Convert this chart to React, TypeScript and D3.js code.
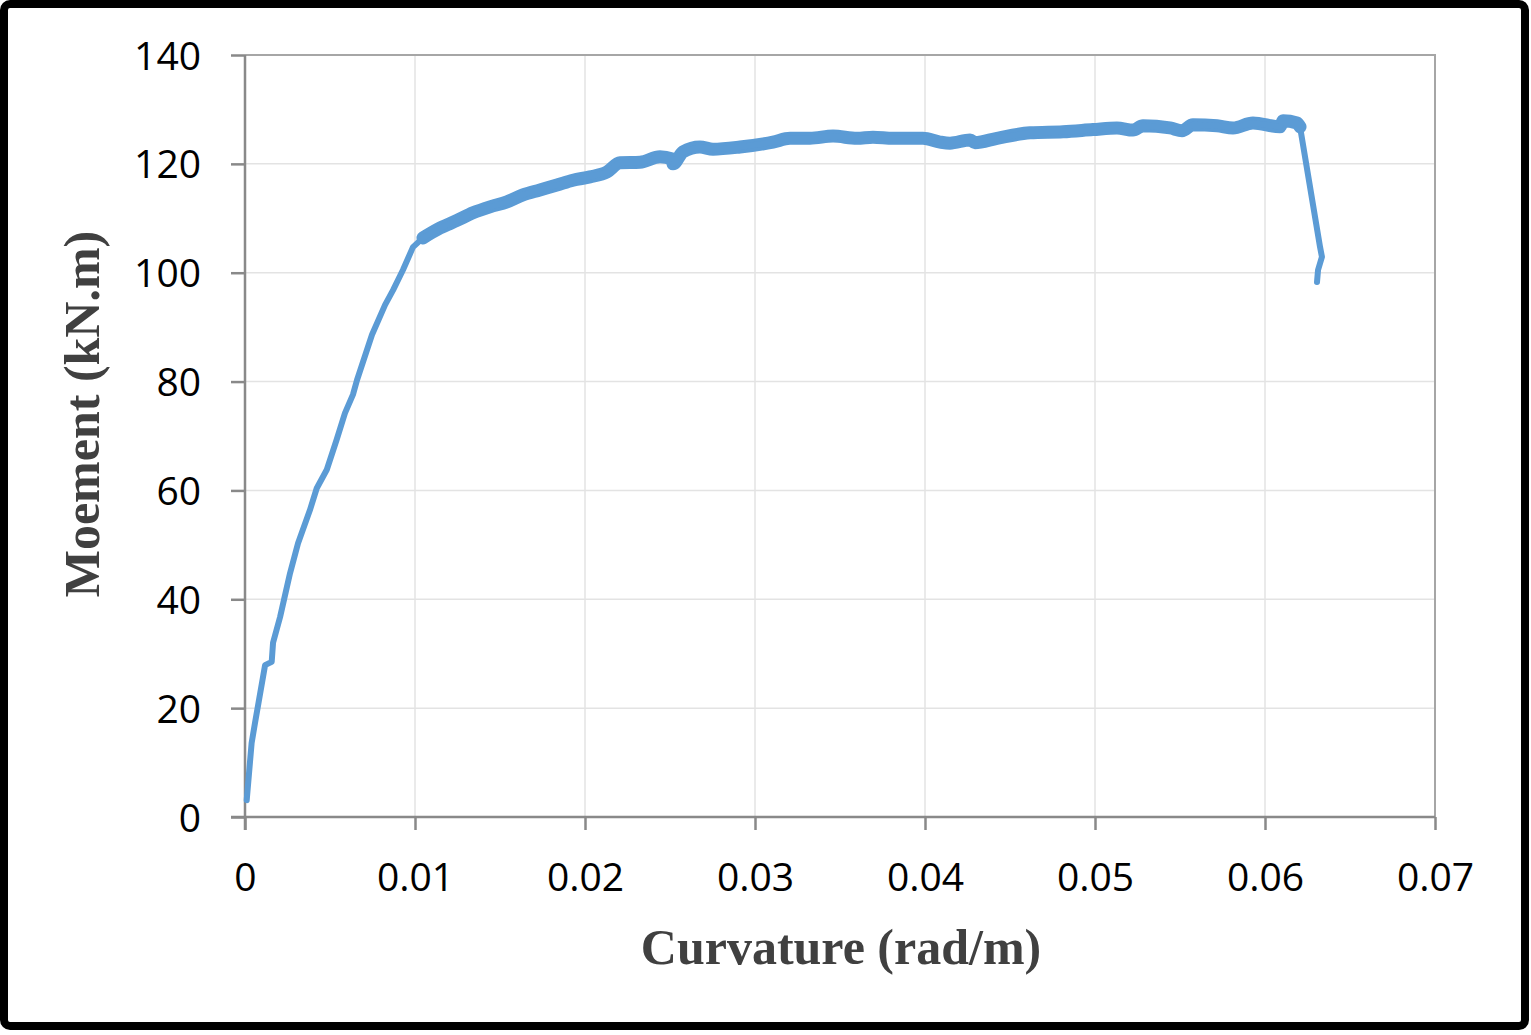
import React, { useEffect, useRef } from 'react';
import * as d3 from 'd3';

// curvature (rad/m) and moment (kN.m)
const curvature = [
  0.0001, 0.00039, 0.00059, 0.00118, 0.00157, 0.00165, 0.00206, 0.00265, 0.00312, 0.00382,
  0.00422, 0.00481, 0.00539, 0.00588, 0.00635, 0.00659, 0.00747, 0.00824, 0.00871, 0.00929,
  0.00988, 0.01047, 0.01147, 0.01247, 0.01341, 0.01441, 0.01541, 0.01635, 0.01735, 0.01835,
  0.01929, 0.02029, 0.02129, 0.02206, 0.02324, 0.02441, 0.02512, 0.02518, 0.02576, 0.02676,
  0.02753, 0.02912, 0.03106, 0.03206, 0.03324, 0.03459, 0.036, 0.03694, 0.03812, 0.03988,
  0.04088, 0.04147, 0.04265, 0.04294, 0.04424, 0.04618, 0.04812, 0.04988, 0.05129, 0.05224,
  0.05282, 0.05441, 0.05512, 0.05576, 0.05718, 0.05812, 0.05929, 0.06088, 0.06106, 0.06188,
  0.06206, 0.06324, 0.06335, 0.06312, 0.06306,
];
const moment = [
  3.1, 13.6, 17.3, 27.9, 28.5, 32.0, 36.7, 44.8, 50.3, 56.4,
  60.4, 63.8, 69.3, 74.2, 77.6, 80.3, 88.6, 94.1, 96.8, 100.5,
  104.7, 106.4, 108.2, 109.6, 111.0, 112.1, 113.0, 114.3, 115.2, 116.1,
  117.0, 117.6, 118.5, 120.2, 120.3, 121.3, 120.9, 120.0, 122.2, 123.1,
  122.7, 123.1, 124.0, 124.7, 124.7, 125.1, 124.7, 124.9, 124.7, 124.7,
  124.0, 123.8, 124.4, 123.9, 124.7, 125.7, 125.9, 126.3, 126.6, 126.2,
  127.0, 126.6, 126.1, 127.2, 127.0, 126.6, 127.5, 126.8, 127.9, 127.5,
  126.8, 104.7, 102.9, 100.5, 98.3,
];

// range where the recorded signal is noisy (drawn as a wider band)
const noisyFrom = 0.0102;
const noisyTo = 0.0621;

const xTicks = [0, 0.01, 0.02, 0.03, 0.04, 0.05, 0.06, 0.07];
const xTickLabels = ['0', '0.01', '0.02', '0.03', '0.04', '0.05', '0.06', '0.07'];
const yTicks = [0, 20, 40, 60, 80, 100, 120, 140];
const yTickLabels = ['0', '20', '40', '60', '80', '100', '120', '140'];

const width = 1531;
const height = 1035;

const App: React.FC = () => {
  const svgRef = useRef<SVGSVGElement>(null);

  useEffect(() => {
    if (!svgRef.current) return;
    const svg = d3.select(svgRef.current);
    svg.selectAll('*').remove();

    const plot = { left: 245, right: 1435, top: 55, bottom: 817 };

    const x = d3.scaleLinear().domain([0, 0.07]).range([plot.left, plot.right]);
    const y = d3.scaleLinear().domain([0, 140]).range([plot.bottom, plot.top]);

    svg.append('rect').attr('width', width).attr('height', height).attr('fill', '#fff');

    // outer frame
    svg.append('rect')
      .attr('x', 4).attr('y', 4)
      .attr('width', 1521).attr('height', 1022)
      .attr('rx', 6)
      .attr('fill', 'none')
      .attr('stroke', '#000')
      .attr('stroke-width', 8);

    // gridlines
    svg.append('g').selectAll('line')
      .data(xTicks.slice(1, -1))
      .enter().append('line')
      .attr('x1', d => x(d)).attr('x2', d => x(d))
      .attr('y1', plot.top).attr('y2', plot.bottom)
      .attr('stroke', '#e3e3e3').attr('stroke-width', 1.5);

    svg.append('g').selectAll('line')
      .data(yTicks.slice(1, -1))
      .enter().append('line')
      .attr('x1', plot.left).attr('x2', plot.right)
      .attr('y1', d => y(d)).attr('y2', d => y(d))
      .attr('stroke', '#e3e3e3').attr('stroke-width', 1.5);

    // plot area border (top/right)
    svg.append('path')
      .attr('d', `M${plot.left},${plot.top}H${plot.right}V${plot.bottom}`)
      .attr('fill', 'none')
      .attr('stroke', '#a6a6a6')
      .attr('stroke-width', 2);

    // axes
    const xAxis = svg.append('g')
      .attr('transform', `translate(0,${plot.bottom})`)
      .call(d3.axisBottom(x).tickValues(xTicks).tickSize(13).tickFormat((_, i) => xTickLabels[i]));
    const yAxis = svg.append('g')
      .attr('transform', `translate(${plot.left},0)`)
      .call(d3.axisLeft(y).tickValues(yTicks).tickSize(14).tickFormat((_, i) => yTickLabels[i]));

    [xAxis, yAxis].forEach(a => {
      a.select('.domain').attr('stroke', '#898989').attr('stroke-width', 2.5);
      a.selectAll('.tick line').attr('stroke', '#898989').attr('stroke-width', 2.5);
      a.selectAll('.tick text')
        .attr('fill', '#000')
        .style('font-family', '"Open Sans", sans-serif')
        .style('font-size', '39px');
    });
    xAxis.select('.domain').attr('d', `M${plot.left - 14},0H${plot.right}`);
    yAxis.select('.domain').attr('d', `M0,${plot.top}V${plot.bottom + 13}`);
    xAxis.selectAll('.tick text').attr('y', 0).attr('dy', 0).attr('transform', 'translate(0,74)');
    yAxis.selectAll('.tick text').attr('x', -44).attr('dy', '0.36em');

    // curve
    const line = d3.line<number>()
      .x(i => x(curvature[i]))
      .y(i => y(moment[i]))
      .curve(d3.curveMonotoneX);
    const straight = d3.line<number>()
      .x(i => x(curvature[i]))
      .y(i => y(moment[i]));

    const idx = d3.range(curvature.length);
    const noisyIdx = idx.filter(i => curvature[i] >= noisyFrom && curvature[i] <= noisyTo);

    svg.append('path')
      .attr('d', line(noisyIdx))
      .attr('fill', 'none')
      .attr('stroke', '#5b9bd5')
      .attr('stroke-width', 13)
      .attr('stroke-linejoin', 'round')
      .attr('stroke-linecap', 'round');

    svg.append('path')
      .attr('d', straight(idx))
      .attr('fill', 'none')
      .attr('stroke', '#5b9bd5')
      .attr('stroke-width', 6)
      .attr('stroke-linejoin', 'round')
      .attr('stroke-linecap', 'round');

    // axis titles
    svg.append('text')
      .attr('x', 841).attr('y', 964)
      .attr('text-anchor', 'middle')
      .attr('fill', '#404040')
      .style('font-family', '"Liberation Serif", "Times New Roman", serif')
      .style('font-weight', 'bold')
      .style('font-size', '50px')
      .text('Curvature (rad/m)');

    svg.append('text')
      .attr('transform', 'translate(99,414) rotate(-90)')
      .attr('text-anchor', 'middle')
      .attr('fill', '#404040')
      .style('font-family', '"Liberation Serif", "Times New Roman", serif')
      .style('font-weight', 'bold')
      .style('font-size', '50px')
      .text('Moement (kN.m)');
  }, []);

  return (
    <svg
      ref={svgRef}
      width={width}
      height={height}
      style={{ position: 'absolute', left: 0, top: 0, display: 'block' }}
    />
  );
};

export default App;
